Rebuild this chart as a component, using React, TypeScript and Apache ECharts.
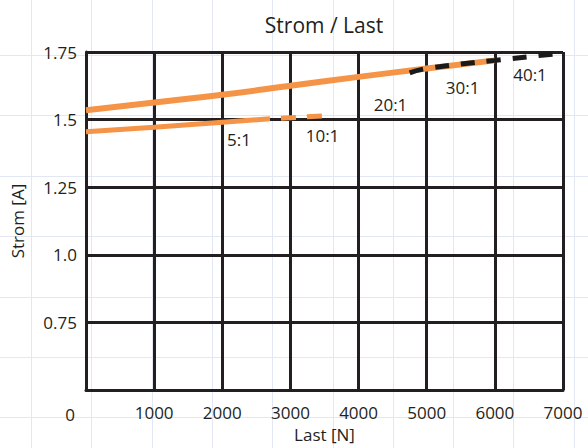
import React, { useEffect, useRef } from "react";
import * as echarts from "echarts";

// Upper curve (solid orange part)
const loadUpper = [0, 1000, 2000, 3000, 4000, 5000, 6000];
const currentUpper = [1.535, 1.563, 1.592, 1.625, 1.658, 1.689, 1.719];
// Upper curve (black dashed continuation)
const loadUpperDash = [4750, 5000, 6000, 7000];
const currentUpperDash = [1.673, 1.689, 1.719, 1.746];
// Lower curve (solid orange part)
const loadLower = [0, 1000, 2000, 2700];
const currentLower = [1.455, 1.472, 1.49, 1.503];
// Lower curve (dashed orange continuation)
const loadLowerDash = [2700, 3500];
const currentLowerDash = [1.503, 1.514];
// Gear ratio annotations
const ratioNames = ["5:1", "10:1", "20:1", "30:1", "40:1"];
const ratioLoad = [2245, 3471, 4469, 5526, 6516];
const ratioCurrent = [1.427, 1.443, 1.555, 1.618, 1.665];

const FONT = "'Open Sans', 'Noto Sans', sans-serif";
const TXT = "#231f20";
const ORANGE = "#f59447";

const zip = (xs: number[], ys: number[]) => xs.map((x, i) => [x, ys[i]]);

export default function App() {
  const ref = useRef<HTMLDivElement>(null);
  useEffect(() => {
    if (!ref.current) return;
    document.body.style.margin = "0";
    const chart = echarts.init(ref.current, null, { renderer: "svg" });
    const bg: any[] = [];
    for (let i = 0; i < 10; i++) {
      const x = Math.round(31 + 60.3 * i) + 0.5;
      bg.push({
        type: "line",
        silent: true,
        z: -10,
        shape: { x1: x, y1: 0, x2: x, y2: 448 },
        style: { stroke: "#e3e6f3", lineWidth: 1 },
      });
    }
    for (let i = 0; i < 7; i++) {
      const y = Math.round(55 + 60.4 * i) + 0.5;
      bg.push({
        type: "line",
        silent: true,
        z: -10,
        shape: { x1: 0, y1: y, x2: 588, y2: y },
        style: { stroke: "#e3e6f3", lineWidth: 1 },
      });
    }
    bg.push({
      type: "text",
      x: 70,
      y: 414,
      z: 10,
      style: {
        text: "0",
        fill: TXT,
        font: `17px ${FONT}`,
        align: "center",
        verticalAlign: "middle",
      },
    });
    chart.setOption({
      animation: false,
      backgroundColor: "#ffffff",
      title: {
        text: "Strom / Last",
        left: 319,
        top: 9,
        textAlign: "center",
        textStyle: { fontFamily: FONT, fontSize: 21, fontWeight: "normal", color: TXT },
      },
      graphic: bg,
      grid: { left: 86, right: 25, top: 52, bottom: 56, containLabel: false },
      xAxis: {
        type: "value",
        min: 0,
        max: 7000,
        interval: 1000,
        name: "Last [N]",
        nameLocation: "middle",
        nameGap: 33,
        nameTextStyle: { fontFamily: FONT, fontSize: 17, color: TXT },
        axisLine: { show: true, lineStyle: { color: TXT, width: 3 } },
        axisTick: { show: false },
        axisLabel: {
          margin: 14,
          fontFamily: FONT,
          fontSize: 17,
          color: TXT,
          formatter: (v: number) => (v === 0 ? "" : String(v)),
        },
        splitLine: { show: true, lineStyle: { color: TXT, width: 3 } },
      },
      yAxis: {
        type: "value",
        min: 0.5,
        max: 1.75,
        interval: 0.25,
        name: "Strom [A]",
        nameLocation: "middle",
        nameGap: 60,
        nameTextStyle: { fontFamily: FONT, fontSize: 17, color: TXT },
        axisLine: { show: true, lineStyle: { color: TXT, width: 3 } },
        axisTick: { show: false },
        axisLabel: {
          margin: 9,
          fontFamily: FONT,
          fontSize: 17,
          color: TXT,
          formatter: (v: number) =>
            Math.abs(v - 0.5) < 1e-9 ? "" : Math.abs(v - 1) < 1e-9 ? "1.0" : String(v),
        },
        splitLine: { show: true, lineStyle: { color: TXT, width: 3 } },
      },
      series: [
        {
          type: "line",
          data: zip(loadUpper, currentUpper),
          showSymbol: false,
          smooth: true,
          z: 3,
          lineStyle: { color: ORANGE, width: 6, cap: "butt" },
        },
        {
          type: "line",
          data: zip(loadUpperDash, currentUpperDash),
          showSymbol: false,
          smooth: true,
          z: 4,
          lineStyle: { color: "#1a1a1a", width: 5, type: [14, 12], cap: "butt" },
        },
        {
          type: "line",
          data: zip(loadLower, currentLower),
          showSymbol: false,
          smooth: true,
          z: 3,
          lineStyle: { color: ORANGE, width: 5, cap: "butt" },
        },
        {
          type: "line",
          data: zip(loadLowerDash, currentLowerDash),
          showSymbol: false,
          z: 3,
          lineStyle: { color: ORANGE, width: 5, type: [15, 11], dashOffset: 15, cap: "butt" },
        },
        {
          type: "scatter",
          symbolSize: 0,
          z: 5,
          itemStyle: { opacity: 1, color: "rgba(0,0,0,0)" },
          data: ratioNames.map((n, i) => ({ name: n, value: [ratioLoad[i], ratioCurrent[i]] })),
          label: {
            show: true,
            position: "inside",
            formatter: (p: any) => p.name,
            fontFamily: FONT,
            fontSize: 17,
            color: TXT,
            opacity: 1,
          },
        },
      ],
    });
    return () => chart.dispose();
  }, []);
  return (
    <div
      ref={ref}
      style={{ position: "absolute", left: 0, top: 0, width: 588, height: 448 }}
    />
  );
}
